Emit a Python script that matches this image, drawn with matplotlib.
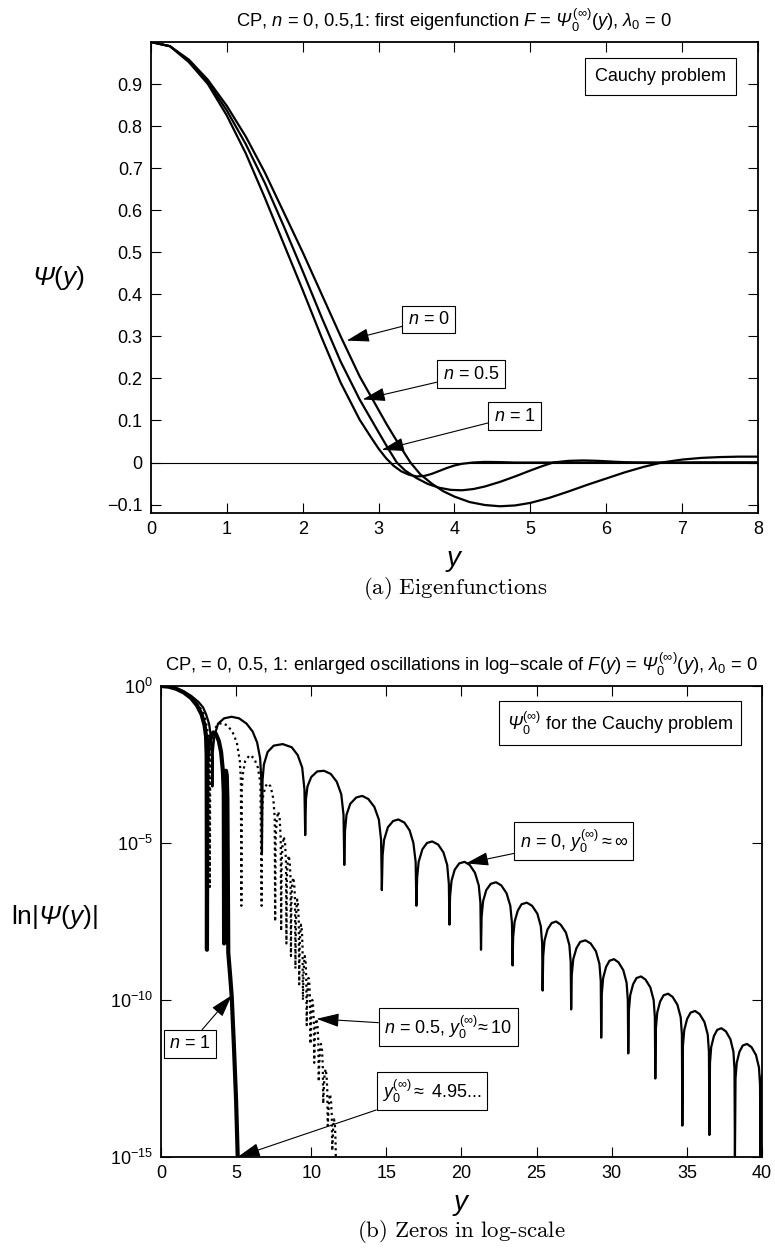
import numpy as np
import matplotlib
matplotlib.use('Agg')
import matplotlib.pyplot as plt
from matplotlib.ticker import FuncFormatter, NullLocator

plt.rcParams['font.family'] = ['Liberation Sans', 'DejaVu Sans']
plt.rcParams['mathtext.fontset'] = 'custom'
plt.rcParams['mathtext.rm'] = 'Liberation Sans'
plt.rcParams['mathtext.it'] = 'Liberation Sans:italic'
plt.rcParams['mathtext.bf'] = 'Liberation Sans:bold'
# italic slot used for the capital Psi (mathtext forces Greek capitals upright in \mathit)
plt.rcParams['mathtext.sf'] = 'Liberation Sans:italic'

# ---- (a) eigenfunctions ----
y_n0 = [0, 0.25, 0.5, 0.75, 1.0, 1.25, 1.5, 1.75, 2.0, 2.25, 2.5, 2.75, 3.0, 3.1, 3.2, 3.3,
        3.42, 3.55, 3.7, 3.85, 4.0, 4.2, 4.4, 4.6, 4.8, 5.0, 5.25, 5.5, 5.75, 6.0, 6.25,
        6.5, 6.73, 7.0, 7.25, 7.5, 7.75, 8.0]
psi_n0 = [1.0, 0.99, 0.958, 0.91, 0.848, 0.775, 0.69, 0.595, 0.50, 0.40, 0.30, 0.205, 0.125,
          0.093, 0.063, 0.034, 0.0, -0.028, -0.05, -0.068, -0.081, -0.094, -0.101, -0.104,
          -0.102, -0.096, -0.084, -0.069, -0.053, -0.038, -0.023, -0.01, 0.0, 0.007, 0.011,
          0.013, 0.014, 0.014]

y_n05 = [0, 0.25, 0.5, 0.75, 1.0, 1.25, 1.5, 1.75, 2.0, 2.25, 2.5, 2.75, 3.0, 3.12, 3.24,
         3.35, 3.5, 3.65, 3.8, 3.95, 4.1, 4.25, 4.4, 4.6, 4.8, 5.0, 5.15, 5.3, 5.5, 5.7,
         5.9, 6.1, 6.35, 6.7, 7.2, 8.0]
psi_n05 = [1.0, 0.99, 0.955, 0.905, 0.837, 0.757, 0.665, 0.562, 0.455, 0.345, 0.24, 0.15,
           0.072, 0.035, 0.0, -0.019, -0.037, -0.051, -0.06, -0.065, -0.066, -0.063,
           -0.057, -0.046, -0.033, -0.019, -0.009, 0.0, 0.004, 0.005, 0.004, 0.002, 0.0,
           -0.001, 0.0, 0.0]

y_n1 = [0, 0.25, 0.5, 0.75, 1.0, 1.25, 1.5, 1.75, 2.0, 2.25, 2.5, 2.75, 2.9, 3.0, 3.1, 3.2,
        3.3, 3.4, 3.5, 3.6, 3.7, 3.8, 3.9, 4.0, 4.1, 4.24, 4.4, 4.6, 4.8, 5.0, 8.0]
psi_n1 = [1.0, 0.99, 0.952, 0.9, 0.825, 0.735, 0.63, 0.52, 0.41, 0.297, 0.19, 0.102, 0.06,
          0.033, 0.01, -0.008, -0.021, -0.029, -0.033, -0.032, -0.027, -0.02, -0.013,
          -0.007, -0.003, 0.0, 0.0015, 0.001, 0.0, 0.0, 0.0]

# ---- (b) |Psi| in log scale: x and log10 of |Psi| ----
ly_n0 = [0, 0.5, 1.0, 1.5, 2.0, 2.5, 2.8, 3.0, 3.2, 3.35, 3.4, 3.42,
         3.45, 3.55, 3.8, 4.2, 4.7, 5.2, 5.7, 6.1, 6.4, 6.6, 6.68, 6.72,
         6.76, 6.85, 7.1, 7.5, 8.1, 8.7, 9.1, 9.4, 9.55, 9.6,
         9.65, 9.75, 10.0, 10.4, 10.85, 11.3, 11.7, 12.0, 12.15, 12.2,
         12.25, 12.35, 12.6, 13.0, 13.4, 13.8, 14.2, 14.5, 14.65, 14.7,
         14.75, 14.85, 15.1, 15.45, 15.8, 16.2, 16.55, 16.8, 16.95, 17.0,
         17.05, 17.15, 17.4, 17.7, 18.05, 18.45, 18.8, 19.05, 19.16, 19.2,
         19.24, 19.34, 19.55, 19.85, 20.2, 20.55, 20.9, 21.15, 21.26, 21.3,
         21.34, 21.44, 21.65, 21.95, 22.3, 22.65, 23.0, 23.25, 23.36, 23.4,
         23.44, 23.54, 23.75, 24.0, 24.35, 24.7, 25.05, 25.28, 25.37, 25.4,
         25.44, 25.53, 25.73, 26.0, 26.3, 26.6, 26.95, 27.18, 27.27, 27.3,
         27.34, 27.44, 27.65, 27.9, 28.25, 28.6, 28.95, 29.18, 29.27, 29.3,
         29.34, 29.43, 29.62, 29.85, 30.15, 30.45, 30.77, 30.99, 31.07, 31.1,
         31.14, 31.23, 31.42, 31.65, 31.95, 32.25, 32.57, 32.79, 32.87, 32.9,
         32.94, 33.03, 33.22, 33.45, 33.75, 34.05, 34.37, 34.59, 34.67, 34.7,
         34.74, 34.83, 35.02, 35.25, 35.55, 35.85, 36.17, 36.39, 36.47, 36.5,
         36.54, 36.62, 36.8, 37.02, 37.3, 37.6, 37.9, 38.1, 38.17, 38.2,
         38.24, 38.32, 38.5, 38.72, 39.0, 39.3, 39.6, 39.8, 39.87, 39.9,
         39.93, 40.0]
lg_n0 = [0, -0.019, -0.076, -0.17, -0.31, -0.51, -0.68, -0.9, -1.2, -1.7, -2.3, -3.2,
         -2.1, -1.6, -1.2, -1.03, -0.98, -1.03, -1.2, -1.45, -1.8, -2.3, -3.0, -5.3,
         -3.0, -2.5, -2.1, -1.9, -1.85, -1.95, -2.2, -2.6, -3.3, -4.75,
         -3.6, -3.2, -2.9, -2.72, -2.7, -2.8, -3.05, -3.45, -4.1, -5.7,
         -4.6, -4.1, -3.75, -3.55, -3.5, -3.6, -3.85, -4.25, -4.9, -6.5,
         -5.4, -4.9, -4.5, -4.3, -4.25, -4.35, -4.6, -5.0, -5.6, -7.0,
         -6.1, -5.6, -5.2, -5.0, -4.95, -5.05, -5.3, -5.7, -6.3, -7.6,
         -6.7, -6.2, -5.85, -5.65, -5.6, -5.7, -5.95, -6.35, -6.9, -8.4,
         -7.35, -6.85, -6.5, -6.3, -6.25, -6.35, -6.6, -7.0, -7.55, -8.9,
         -8.0, -7.5, -7.15, -6.95, -6.9, -7.0, -7.25, -7.65, -8.2, -9.7,
         -8.6, -8.1, -7.75, -7.55, -7.5, -7.6, -7.85, -8.25, -8.8, -10.3,
         -9.2, -8.7, -8.35, -8.15, -8.1, -8.2, -8.45, -8.85, -9.4, -11.2,
         -9.8, -9.3, -8.95, -8.75, -8.7, -8.8, -9.05, -9.45, -10.0, -11.7,
         -10.35, -9.85, -9.5, -9.3, -9.25, -9.35, -9.6, -10.0, -10.55, -12.5,
         -10.9, -10.4, -10.05, -9.85, -9.8, -9.9, -10.15, -10.55, -11.1, -14.0,
         -11.45, -10.95, -10.6, -10.4, -10.35, -10.45, -10.7, -11.1, -11.65, -14.3,
         -12.0, -11.5, -11.15, -10.95, -10.9, -11.0, -11.25, -11.65, -12.2, -15.0,
         -12.5, -12.0, -11.65, -11.45, -11.4, -11.5, -11.75, -12.15, -12.7, -15.0,
         -13.0, -12.4]

ly_n05 = [0, 0.5, 1.0, 1.5, 2.0, 2.5, 2.8, 3.0, 3.15, 3.22, 3.25,
          3.28, 3.38, 3.6, 3.8, 4.05, 4.4, 4.75, 5.05, 5.25, 5.32, 5.35,
          5.38, 5.45, 5.6, 5.9, 6.2, 6.45, 6.62, 6.7,
          6.73, 6.8, 6.95, 7.1, 7.3, 7.48, 7.57, 7.6,
          7.63, 7.7, 7.8, 7.9, 7.97, 8.0,
          8.03, 8.09, 8.17, 8.26, 8.32, 8.35,
          8.38, 8.43, 8.5, 8.57, 8.62, 8.65,
          8.68, 8.73, 8.8, 8.87, 8.92, 8.95,
          8.98, 9.02, 9.07, 9.13, 9.17, 9.2,
          9.23, 9.27, 9.32, 9.38, 9.42, 9.45,
          9.48, 9.52, 9.57, 9.63, 9.67, 9.7,
          9.73, 9.77, 9.82, 9.88, 9.92, 9.95,
          9.98, 10.02, 10.07, 10.13, 10.17, 10.2,
          10.23, 10.28, 10.35, 10.42, 10.47, 10.5,
          10.53, 10.58, 10.65, 10.72, 10.77, 10.8,
          10.83, 10.88, 10.95, 11.02, 11.07, 11.1,
          11.13, 11.18, 11.25, 11.32, 11.37, 11.4,
          11.43, 11.47, 11.52, 11.58, 11.62, 11.65, 11.75]
lg_n05 = [0, -0.02, -0.08, -0.19, -0.36, -0.61, -0.85, -1.15, -1.6, -2.2, -6.4,
          -2.2, -1.7, -1.35, -1.22, -1.18, -1.25, -1.45, -1.8, -2.4, -3.0, -7.0,
          -3.3, -2.8, -2.4, -2.2, -2.3, -2.6, -3.1, -7.0,
          -4.0, -3.5, -3.2, -3.1, -3.2, -3.6, -4.2, -7.5,
          -4.9, -4.3, -4.0, -4.2, -4.9, -7.8,
          -5.6, -5.1, -4.8, -5.0, -5.6, -8.2,
          -6.1, -5.65, -5.4, -5.6, -6.1, -8.6,
          -6.8, -6.35, -6.1, -6.3, -6.8, -9.0,
          -7.5, -7.05, -6.8, -7.0, -7.5, -9.5,
          -8.3, -7.85, -7.6, -7.8, -8.3, -10.0,
          -9.3, -8.85, -8.6, -8.8, -9.3, -10.8,
          -10.0, -9.55, -9.3, -9.5, -10.0, -11.4,
          -10.7, -10.25, -10.0, -10.2, -10.7, -12.0,
          -11.3, -10.85, -10.6, -10.8, -11.3, -12.6,
          -12.1, -11.65, -11.4, -11.6, -12.1, -13.3,
          -12.9, -12.45, -12.2, -12.4, -12.9, -14.0,
          -13.7, -13.25, -13.0, -13.2, -13.7, -14.8,
          -14.4, -14.0, -13.8, -14.0, -14.5, -15.5, -15.5]

ly_n1 = [0, 0.5, 1.0, 1.5, 2.0, 2.4, 2.7, 2.9, 3.0, 3.04, 3.06, 3.09, 3.18, 3.3, 3.48,
         3.65, 3.85, 4.0, 4.12, 4.18, 4.2, 4.23, 4.28, 4.33, 4.38, 4.42, 4.45, 4.48,
         4.6, 4.71, 4.85, 5.0, 5.12]
lg_n1 = [0, -0.021, -0.086, -0.2, -0.38, -0.62, -0.9, -1.25, -1.6, -2.2, -8.4, -2.4,
         -1.9, -1.62, -1.48, -1.52, -1.75, -2.1, -2.7, -3.4, -8.2, -3.3, -2.8, -2.7,
         -2.85, -3.6, -6.0, -8.5, -9.2, -9.9, -11.4, -13.2, -15.2]

PSI = r'$\mathsf{\Psi}$'


def fmt_lin(v, pos):
    return ('%g' % round(v, 2)).replace('-', '\u2212')


def style_axes(ax):
    ax.tick_params(direction='in', top=True, right=True, length=7, width=0.8,
                   labelsize=13, pad=6)
    for sp in ax.spines.values():
        sp.set_linewidth(1.3)


box = dict(boxstyle='square,pad=0.3', fc='white', ec='black', lw=0.8)
arrow = dict(arrowstyle='-|>,head_length=1.0,head_width=0.3', color='black', lw=0.8,
             shrinkA=0, shrinkB=0, mutation_scale=14)

fig = plt.figure(figsize=(7.75, 12.5), dpi=100)

# ------------------ panel (a) ------------------
ax1 = fig.add_axes([0.1948, 0.5896, 0.7832, 0.3768])
ax1.plot(y_n0, psi_n0, color='black', lw=1.6)
ax1.plot(y_n05, psi_n05, color='black', lw=1.6)
ax1.plot(y_n1, psi_n1, color='black', lw=1.6)
ax1.axhline(0, color='black', lw=0.8)
ax1.set_xlim(0, 8)
ax1.set_ylim(-0.12, 1.0)
ax1.set_xticks(np.arange(0, 9, 1))
ax1.set_yticks(np.arange(-0.1, 0.95, 0.1))
ax1.yaxis.set_major_formatter(FuncFormatter(fmt_lin))
style_axes(ax1)
ax1.set_title(r'CP, $n$ = 0, 0.5,1: first eigenfunction $F$ = $\mathsf{\Psi}_0^{\,(\infty)}$($y$), '
              r'$\mathit{\lambda}_0$ = 0', fontsize=13.2, pad=11)
ax1.set_xlabel(r'$y$', fontsize=20)
ax1.xaxis.set_label_coords(0.5, -0.075)
ax1.set_ylabel(PSI + r'($y$)', fontsize=19, rotation=0, va='center', ha='center')
ax1.yaxis.set_label_coords(-0.153, 0.5)

ax1.text(6.71, 0.917, 'Cauchy problem', fontsize=13, ha='center', va='center',
         bbox=dict(boxstyle='square,pad=0.55', fc='white', ec='black', lw=0.8))
ax1.annotate(r'$n$ = 0', xy=(2.58, 0.29), xytext=(3.66, 0.34), fontsize=13,
             ha='center', va='center', bbox=box, arrowprops=arrow)
ax1.annotate(r'$n$ = 0.5', xy=(2.79, 0.15), xytext=(4.22, 0.21), fontsize=13,
             ha='center', va='center', bbox=box, arrowprops=arrow)
ax1.annotate(r'$n$ = 1', xy=(3.04, 0.03), xytext=(4.79, 0.11), fontsize=13,
             ha='center', va='center', bbox=box, arrowprops=arrow)

fig.text(0.5877, 0.529, r'$\mathrm{(a)\ Eigenfunctions}$', fontsize=16.5,
         ha='center', va='center', math_fontfamily='cm')

# ------------------ panel (b) ------------------
ax2 = fig.add_axes([0.2077, 0.0744, 0.7755, 0.3768])
ax2.semilogy(ly_n0, 10.0 ** np.array(lg_n0), color='black', lw=1.6)
ax2.semilogy(ly_n05, 10.0 ** np.array(lg_n05), color='black', lw=1.6,
             linestyle=(0, (1, 1.6)))
ax2.semilogy(ly_n1, 10.0 ** np.array(lg_n1), color='black', lw=3.0)
ax2.set_xlim(0, 40)
ax2.set_ylim(1e-15, 1)
ax2.set_xticks(np.arange(0, 41, 5))
ax2.set_yticks([1e-15, 1e-10, 1e-5, 1])
ax2.yaxis.set_minor_locator(NullLocator())
style_axes(ax2)
ax2.set_title('CP, = 0, 0.5, 1: enlarged oscillations in log\u2212scale of $F$($y$) = '
              r'$\mathsf{\Psi}_0^{\,(\infty)}$($y$), $\mathit{\lambda}_0$ = 0',
              fontsize=13.2, pad=11)
ax2.set_xlabel(r'$y$', fontsize=20)
ax2.xaxis.set_label_coords(0.5, -0.075)
ax2.set_ylabel('ln|' + PSI + r'($y$)|', fontsize=19, rotation=0, va='center', ha='center')
ax2.yaxis.set_label_coords(-0.178, 0.51)

ax2.text(0.764, 0.921, r'$\mathsf{\Psi}_0^{(\infty)}$ for the Cauchy problem', fontsize=13,
         ha='center', va='center', transform=ax2.transAxes,
         bbox=dict(boxstyle='square,pad=0.45', fc='white', ec='black', lw=0.8))
ax2.annotate(r'$n$ = 0, $y_0^{(\infty)}\approx\infty$', xy=(20.3, 10 ** -5.65),
             xytext=(0.687, 0.671), textcoords='axes fraction', fontsize=13,
             ha='center', va='center', bbox=box, arrowprops=arrow)
ax2.annotate(r'$n$ = 0.5, $y_0^{(\infty)}\!\approx$10', xy=(10.35, 10 ** -10.6),
             xytext=(0.478, 0.276), textcoords='axes fraction', fontsize=13,
             ha='center', va='center', bbox=box, arrowprops=arrow)
ax2.annotate(r'$n$ = 1', xy=(4.71, 10 ** -9.85),
             xytext=(0.048, 0.24), textcoords='axes fraction', fontsize=13,
             ha='center', va='center', bbox=box, arrowprops=arrow)
ax2.annotate(r'$y_0^{(\infty)}\approx$ 4.95...', xy=(5.1, 1e-15),
             xytext=(0.451, 0.14), textcoords='axes fraction', fontsize=13,
             ha='center', va='center', bbox=box, arrowprops=arrow)

fig.text(0.5954, 0.015, r'$\mathrm{(b)\ Zeros\ in\ log\text{-}scale}$', fontsize=16.5,
         ha='center', va='center', math_fontfamily='cm')

fig.savefig('out.png', dpi=100)
